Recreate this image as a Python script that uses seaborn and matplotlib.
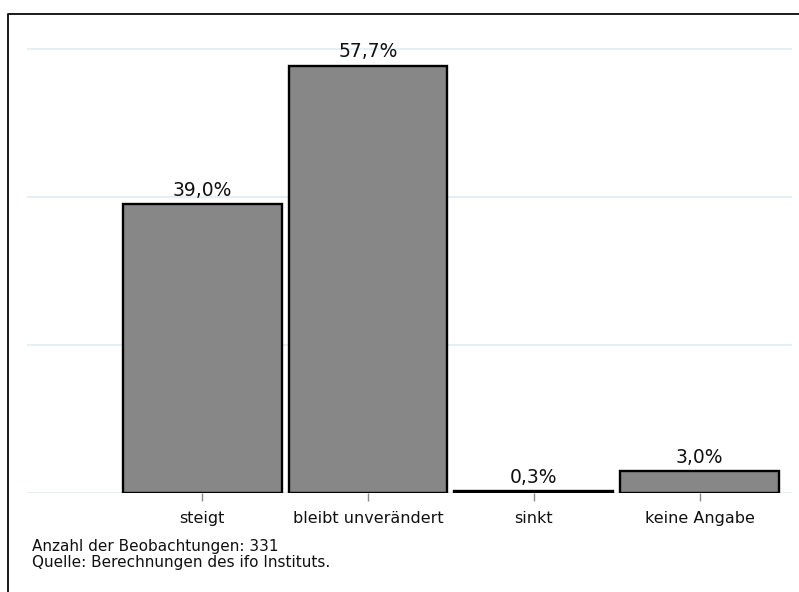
import matplotlib
matplotlib.use("Agg")
import matplotlib.pyplot as plt
from matplotlib.lines import Line2D
import seaborn as sns
import pandas as pd

categories = ["steigt", "bleibt unverändert", "sinkt", "keine Angabe"]
shares = [39.0, 57.7, 0.3, 3.0]
notes = ["Anzahl der Beobachtungen: 331", "Quelle: Berechnungen des ifo Instituts."]

sns.set_theme(style="white")
plt.rcParams["font.family"] = ["DejaVu Sans Condensed", "DejaVu Sans"]

W, H = 799, 592
fig = plt.figure(figsize=(W / 100, H / 100), dpi=100)

# plot area in pixel terms
left_px, right_px, top_px, base_px = 27, 792, 30, 493
ax = fig.add_axes([left_px / W, (H - base_px) / H,
                   (right_px - left_px) / W, (base_px - top_px) / H])

df = pd.DataFrame({"Kategorie": categories, "Anteil": shares})
sns.barplot(data=df, x="Kategorie", y="Anteil", ax=ax, color="#878787",
            saturation=1, width=0.958, edgecolor="black", linewidth=1.7,
            zorder=3)

ax.set_xlim(-1.057, 3.557)
ax.set_ylim(0, 62.5)
ax.set_yticks([0, 20, 40, 60])
ax.set_yticklabels([])
ax.tick_params(axis="y", length=0)
ax.yaxis.grid(True, color="#e6eff1", linewidth=1.5, zorder=0)
ax.xaxis.grid(False)
for s in ax.spines.values():
    s.set_visible(False)

ax.tick_params(axis="x", bottom=True, length=6, width=1, color="#8a8a8a",
               pad=7, labelsize=11.5, labelcolor="#111111")
ax.set_xlabel("")
ax.set_ylabel("")

for i, v in enumerate(shares):
    ax.annotate(f"{v:.1f}".replace(".", ",") + "%", (i, v),
                xytext=(0, 3), textcoords="offset points",
                ha="center", va="bottom", fontsize=13.5, color="#111111")

fig.text(32 / W, 1 - 547 / H, notes[0], fontsize=11, va="center",
         ha="left", color="#111111")
fig.text(32 / W, 1 - 563 / H, notes[1], fontsize=11, va="center",
         ha="left", color="#111111")

# outer frame (left and top edges)
fig.add_artist(Line2D([7.5 / W, 7.5 / W, 1.0], [0.0, 1 - 13.5 / H, 1 - 13.5 / H],
                      transform=fig.transFigure, color="#1a1a1a",
                      linewidth=1.4))

fig.savefig("out.png", dpi=100, facecolor="white")
